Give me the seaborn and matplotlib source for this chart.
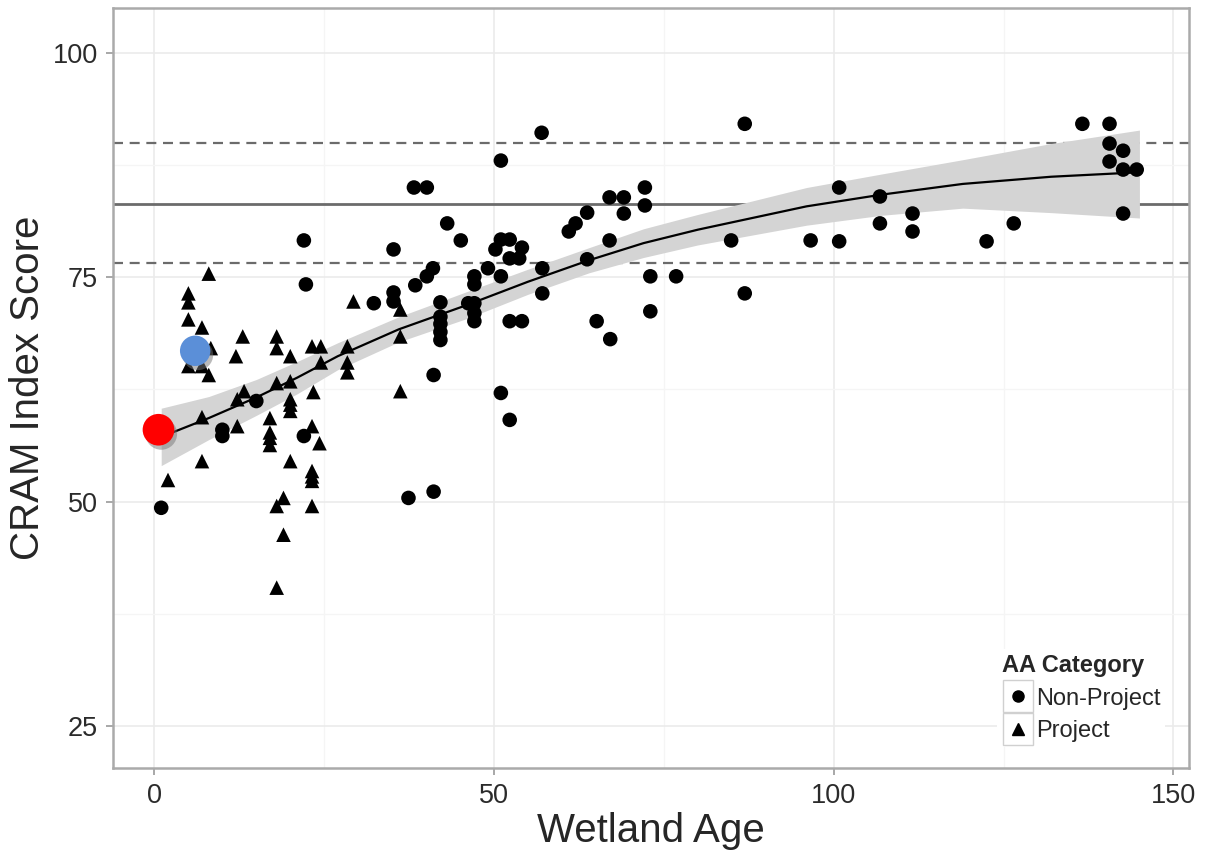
import numpy as np
import pandas as pd
import seaborn as sns
import matplotlib.pyplot as plt
import matplotlib.patheffects as pe
from matplotlib.lines import Line2D
from matplotlib.patches import Rectangle
from matplotlib.ticker import MultipleLocator

# Project assessment areas (triangles)
project_age = [2, 5, 5, 5, 7, 13, 8.3, 12, 18, 18, 20, 23.2, 24.5, 5, 7, 8, 24.5,
               28.4, 28.4, 28.4, 20, 18, 13.2, 12.2, 7, 23.4, 20, 20, 20, 12.2, 17,
               17, 17, 17, 23.2, 24.3, 7, 20, 23.2, 23.2, 23.2, 19, 18, 23.2, 19, 18,
               8, 29.3, 36.2, 36.2, 36.2]
project_score = [52.4, 73.2, 72.2, 70.3, 69.4, 68.4, 67.1, 66.2, 68.4, 67.1, 66.2, 67.3,
                 67.3, 65.1, 65.1, 64.1, 65.5, 67.3, 65.5, 64.4, 63.4, 63.2, 62.3, 61.4,
                 59.4, 62.2, 61.4, 60.8, 60.1, 58.4, 59.3, 57.7, 57.1, 56.3, 58.4, 56.5,
                 54.5, 54.5, 53.4, 52.8, 52.3, 50.4, 49.5, 49.5, 46.3, 40.4, 75.4, 72.3,
                 71.4, 68.4, 62.3]

# Non-project assessment areas (circles)
nonproject_age = [1, 22.3, 22, 15, 10, 10, 22, 57, 51, 38.2, 40.1, 43.1, 35.2, 45.1,
                  50.2, 51, 52.3, 54.1, 52.3, 53.7, 63.7, 62, 61, 63.7, 49.1, 51, 57.1,
                  57.1, 41, 40.1, 38.4, 35.2, 35.2, 32.3, 42.1, 42.1, 42.1, 42.1, 42.1,
                  47.1, 47.1, 47.1, 47.1, 47.1, 46.2, 52.3, 54.1, 41.1, 51, 52.3, 37.4,
                  41.1, 86.9, 72.2, 72.2, 67, 69.1, 69.1, 67, 84.9, 86.9, 73, 76.8, 73,
                  65.1, 67.1, 96.6, 100.8, 106.8, 106.8, 111.6, 111.6, 100.8, 122.5,
                  126.5, 136.6, 140.6, 140.6, 142.6, 140.6, 142.6, 144.6, 142.6]
nonproject_score = [49.3, 74.2, 79.1, 61.2, 58, 57.3, 57.3, 91.1, 88, 85, 85, 81, 78.1,
                    79.1, 78.1, 79.2, 79.2, 78.3, 77.1, 77.1, 82.2, 81, 80.1, 77, 76,
                    75.1, 76, 73.2, 76, 75.1, 74.1, 73.3, 72.3, 72.1, 72.2, 70.6, 69.8,
                    68.9, 68, 75.1, 74.2, 72.1, 71, 70.1, 72.1, 70.1, 70.1, 64.1, 62.1,
                    59.1, 50.4, 51.1, 92.1, 85, 83, 83.9, 83.9, 82.1, 79.1, 79.1, 73.2,
                    75.1, 75.1, 71.2, 70.1, 68.1, 79.1, 85, 84, 81, 82.1, 80.1, 79, 79,
                    81, 92.1, 92.1, 89.9, 89.1, 87.9, 87, 87, 82.1]

# smoother
fit_age = [1, 8, 15, 21, 27, 36, 46, 55, 64, 72, 80, 88, 96, 107, 119, 132, 145]
fit_score = [57.2, 59.3, 61.6, 63.8, 66.2, 69.2, 71.9, 74.5, 76.9, 78.8, 80.3, 81.6,
             82.9, 84.2, 85.4, 86.2, 86.7]
fit_low = [54.0, 56.9, 59.6, 62.0, 64.7, 67.8, 70.4, 73.1, 75.5, 77.2, 78.6, 79.7,
           80.8, 81.9, 82.7, 82.2, 81.6]
fit_high = [60.4, 61.7, 63.6, 65.6, 67.7, 70.6, 73.4, 75.9, 78.3, 80.4, 82.0, 83.5,
            85.0, 86.5, 88.1, 89.9, 91.4]

# reference lines and highlighted sites
ref_mean = 83.2
ref_band = [76.6, 90.0]
red_site = (0.6, 58.0)
blue_site = (6.0, 66.8)

df = pd.DataFrame({
    'Wetland Age': project_age + nonproject_age,
    'CRAM Index Score': project_score + nonproject_score,
    'AA Category': ['Project'] * len(project_age) + ['Non-Project'] * len(nonproject_age),
})
fit = pd.DataFrame({'age': fit_age, 'score': fit_score, 'lo': fit_low, 'hi': fit_high})

sns.set_theme(style='white')
plt.rcParams['font.family'] = ['Liberation Sans', 'DejaVu Sans']

fig = plt.figure(figsize=(12.07, 8.5), dpi=100)
ax = fig.add_axes([0.0936, 0.0965, 0.8915, 0.894])

# grid like ggplot theme_bw
ax.xaxis.set_major_locator(MultipleLocator(50))
ax.xaxis.set_minor_locator(MultipleLocator(25))
ax.yaxis.set_major_locator(MultipleLocator(25))
ax.yaxis.set_minor_locator(MultipleLocator(12.5))
ax.grid(which='major', color='#ebebeb', lw=1.2, zorder=0)
ax.grid(which='minor', color='#f5f5f5', lw=1.0, zorder=0)
ax.set_axisbelow(True)

ax.axhline(ref_mean, color='#6b6b6b', lw=2.0, zorder=1)
for yv in ref_band:
    ax.axhline(yv, color='#6b6b6b', lw=1.6, ls=(0, (4.5, 3.0)), zorder=1)

ax.fill_between(fit['age'], fit['lo'], fit['hi'], color='#d4d4d4', lw=0, zorder=2)
sns.lineplot(data=fit, x='age', y='score', color='black', lw=1.6, ax=ax, zorder=3)

sns.scatterplot(data=df, x='Wetland Age', y='CRAM Index Score', style='AA Category',
                markers={'Non-Project': 'o', 'Project': '^'}, color='black', s=110,
                edgecolor='none', legend=False, ax=ax, zorder=4)

shadow = [pe.SimplePatchShadow(offset=(2, -3), shadow_rgbFace='#777777', alpha=0.5), pe.Normal()]
ax.scatter([red_site[0]], [red_site[1]], s=520, color='#ff0000', edgecolor='none',
           zorder=6, path_effects=shadow)
ax.scatter([blue_site[0]], [blue_site[1]], s=480, color='#5b8fd8', edgecolor='none',
           zorder=6, path_effects=shadow)

ax.set_xlim(-6.1, 152.3)
ax.set_ylim(20.3, 105.0)
ax.set_xlabel('Wetland Age', fontsize=29, labelpad=2)
ax.set_ylabel('CRAM Index Score', fontsize=29, labelpad=4)
ax.tick_params(axis='both', which='major', labelsize=19.5, labelcolor='#2b2b2b',
               length=5, width=1.2, color='#999999', pad=6, bottom=True, left=True)
ax.tick_params(which='minor', length=0)
for sp in ax.spines.values():
    sp.set_color('#aaaaaa')
    sp.set_linewidth(1.8)

handles = [
    Line2D([], [], marker='o', ls='none', color='black', markersize=8),
    Line2D([], [], marker='^', ls='none', color='black', markersize=8),
]
leg = ax.legend(handles, ['Non-Project', 'Project'], title='AA Category',
                loc='lower right', bbox_to_anchor=(0.989, 0.012), fontsize=17,
                title_fontproperties={'weight': 'bold', 'size': 17}, frameon=True,
                facecolor='white', edgecolor='none', framealpha=1.0,
                handlelength=1.36, handletextpad=0.1, labelspacing=0.45,
                borderpad=0.2, alignment='left')
leg.set_zorder(7)

# ggplot style key boxes around the legend markers
fig.canvas.draw()
renderer = fig.canvas.get_renderer()
W, H = fig.bbox.width, fig.bbox.height
for h in leg.legend_handles:
    bb = h.get_window_extent(renderer)
    cx, cy = (bb.x0 + bb.x1) / 2, (bb.y0 + bb.y1) / 2
    fig.add_artist(Rectangle(((cx - 15) / W, (cy - 16) / H), 30 / W, 32 / H,
                             transform=fig.transFigure, fill=False,
                             edgecolor='#d0d0d0', lw=1.0, zorder=8))

fig.savefig('out.png', dpi=100)
